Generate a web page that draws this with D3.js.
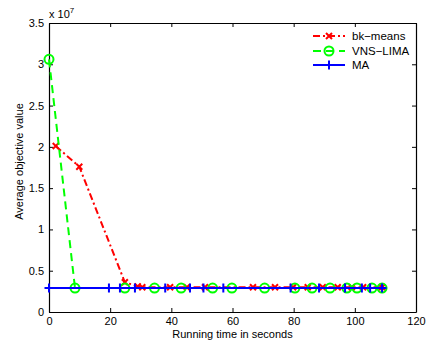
<!DOCTYPE html>
<html>
<head>
<meta charset="utf-8">
<script src="https://cdn.jsdelivr.net/npm/d3@7"></script>
<style>
  body { margin: 0; background: #fff; }
  text { font-family: "Liberation Sans", Arial, Helvetica, sans-serif; }
</style>
</head>
<body>
<div id="chart"></div>
<script>
// x ticks / y ticks
var xTicks = [0, 20, 40, 60, 80, 100, 120];
var yTicks = [0, 0.5e7, 1e7, 1.5e7, 2e7, 2.5e7, 3e7, 3.5e7];

// bk-means
var bkX = [2.2, 9.9, 24.8, 29, 30.5, 39.6, 45.1, 51, 66.7, 73.9, 79.8, 84.6, 89.5, 94.4, 99, 102.7, 108.9];
var bkY = [2.01e7, 1.76e7, 0.36e7, 0.31e7, 0.30e7, 0.30e7, 0.30e7, 0.30e7, 0.30e7, 0.30e7, 0.30e7, 0.30e7, 0.30e7, 0.30e7, 0.30e7, 0.30e7, 0.30e7];

// VNS-LIMA
var vnsX = [0, 8.5, 24.8, 34.5, 43.2, 53.5, 59.8, 70.5, 80.4, 86, 91.9, 97.4, 100.7, 105.6, 108.9];
var vnsY = [3.06e7, 0.29e7, 0.29e7, 0.29e7, 0.29e7, 0.29e7, 0.29e7, 0.29e7, 0.29e7, 0.29e7, 0.29e7, 0.29e7, 0.29e7, 0.29e7, 0.29e7];

// MA
var maX = [0, 19.6, 23.2, 28.1, 38, 46.1, 50.5, 57, 79, 88.3, 96.8, 102.3, 105, 108.9];
var maY = [0.29e7, 0.29e7, 0.29e7, 0.29e7, 0.29e7, 0.29e7, 0.29e7, 0.29e7, 0.29e7, 0.29e7, 0.29e7, 0.29e7, 0.29e7, 0.29e7];

var names = ["bk−means", "VNS−LIMA", "MA"];
var colors = ["#ff0000", "#00ff00", "#0000ff"];

var W = 427, H = 347;
var L = 49, R = 416, T = 23, B = 312;

var x = d3.scaleLinear().domain([0, 120]).range([L, R]);
var y = d3.scaleLinear().domain([0, 3.5e7]).range([B, T]);

var svg = d3.select("#chart").append("svg").attr("width", W).attr("height", H);

function zip(xs, ys) { return xs.map(function (d, i) { return [d, ys[i]]; }); }

// 坐标轴 (ticks inward, MATLAB style box)
var ax = svg.append("g").attr("transform", "translate(0," + B + ")")
  .call(d3.axisBottom(x).tickValues(xTicks).tickSizeInner(-4).tickSizeOuter(0).tickPadding(5));
var ay = svg.append("g").attr("transform", "translate(" + L + ",0)")
  .call(d3.axisLeft(y).tickValues(yTicks).tickSizeInner(-4).tickSizeOuter(0).tickPadding(5)
    .tickFormat(function (d) { return d3.format("~g")(d / 1e7); }));
var axTop = svg.append("g").attr("transform", "translate(0," + T + ")")
  .call(d3.axisTop(x).tickValues(xTicks).tickSizeInner(-4).tickSizeOuter(0).tickFormat(""));
var ayR = svg.append("g").attr("transform", "translate(" + R + ",0)")
  .call(d3.axisRight(y).tickValues(yTicks).tickSizeInner(-4).tickSizeOuter(0).tickFormat(""));
[ax, ay, axTop, ayR].forEach(function (g) {
  g.selectAll("path").attr("stroke", "#000").attr("stroke-width", 1.2);
  g.selectAll("line").attr("stroke", "#000");
  g.selectAll("text").attr("font-size", 11).attr("fill", "#000")
    .style("font-family", "'Liberation Sans', Arial, sans-serif");
});

// x 10^7
var ex = svg.append("text").attr("x", L).attr("y", 18).attr("font-size", 11);
ex.append("tspan").text("x 10");
ex.append("tspan").attr("dy", -5).attr("font-size", 8).text("7");

// labels
svg.append("text").attr("x", (L + R) / 2).attr("y", 338).attr("text-anchor", "middle")
  .attr("font-size", 11).text("Running time in seconds");
svg.append("text").attr("transform", "translate(23," + ((T + B) / 2 - 6) + ") rotate(-90)")
  .attr("text-anchor", "middle").attr("font-size", 11).text("Average objective value");

var line = d3.line().x(function (d) { return x(d[0]); }).y(function (d) { return y(d[1]); });

var series = [zip(bkX, bkY), zip(vnsX, vnsY), zip(maX, maY)];
var dashes = ["7,3,2,3", "8,5", null];

function marker(g, k, px, py, c) {
  if (k === 0) {
    var s = 3;
    g.append("path").attr("d", "M" + (px - s) + "," + (py - s) + "L" + (px + s) + "," + (py + s) +
      "M" + (px - s) + "," + (py + s) + "L" + (px + s) + "," + (py - s))
      .attr("stroke", c).attr("stroke-width", 2).attr("fill", "none");
  } else if (k === 1) {
    g.append("circle").attr("cx", px).attr("cy", py).attr("r", 4.5)
      .attr("stroke", c).attr("stroke-width", 2).attr("fill", "none");
  } else {
    var s2 = 4.5;
    g.append("path").attr("d", "M" + (px - s2) + "," + py + "L" + (px + s2) + "," + py +
      "M" + px + "," + (py - s2) + "L" + px + "," + (py + s2))
      .attr("stroke", c).attr("stroke-width", 2).attr("fill", "none");
  }
}

series.forEach(function (data, k) {
  var g = svg.append("g");
  g.append("path").attr("d", line(data)).attr("fill", "none")
    .attr("stroke", colors[k]).attr("stroke-width", 2)
    .attr("stroke-dasharray", dashes[k]);
  data.forEach(function (d) { marker(g, k, x(d[0]), y(d[1]), colors[k]); });
});

// 图例
var legY = [36, 51, 65];
names.forEach(function (n, k) {
  var g = svg.append("g");
  g.append("line").attr("x1", 313).attr("x2", 345).attr("y1", legY[k]).attr("y2", legY[k])
    .attr("stroke", colors[k]).attr("stroke-width", 2).attr("stroke-dasharray", dashes[k]);
  marker(g, k, 329, legY[k], colors[k]);
  g.append("text").attr("x", 352).attr("y", legY[k] + 4).attr("font-size", 11.5).text(n);
});
</script>
</body>
</html>
